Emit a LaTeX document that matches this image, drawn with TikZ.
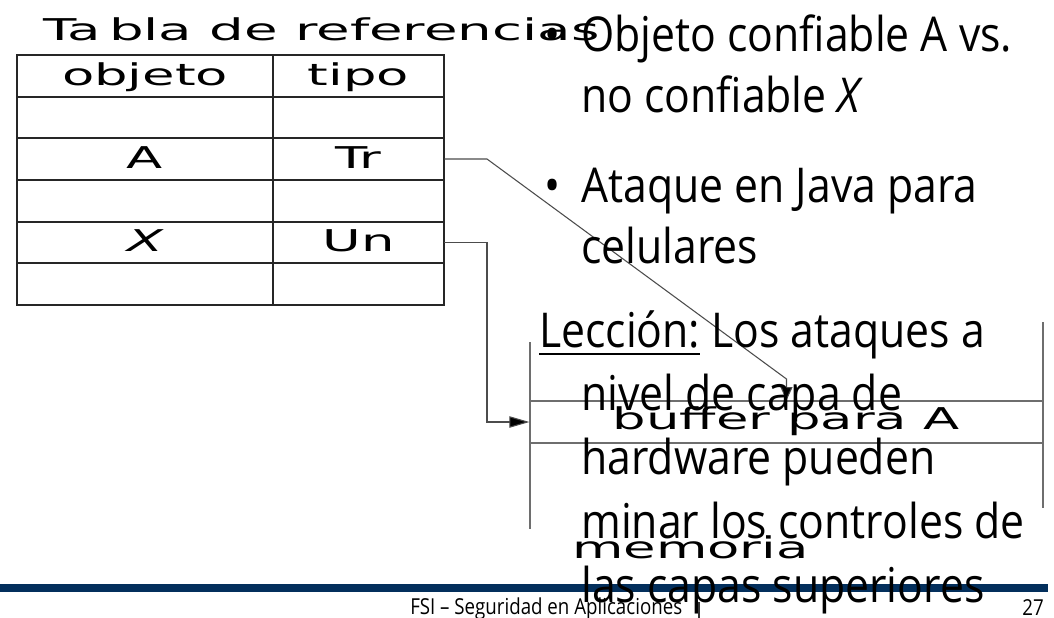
\documentclass[tikz,border=0pt]{standalone}
\usepackage{fontspec}
\usetikzlibrary{arrows.meta}
\newfontfamily\diagfont{DejaVu Sans}[FakeStretch=1.76]
\newfontfamily\titlefont{DejaVu Sans}[FakeStretch=1.82]
\newfontfamily\slidefont{Open Sans}[FakeStretch=0.89]
\newfontfamily\footfont{Open Sans}[FakeStretch=0.85]
\definecolor{barnavy}{RGB}{3,47,92}
\definecolor{memgray}{RGB}{110,110,110}
% underline with a fixed offset below the baseline
\newcommand{\lessonul}[1]{\setbox0=\hbox{#1}\rlap{\rule[-6pt]{\wd0}{1.5pt}}\box0\relax}
\begin{document}
\begin{tikzpicture}[x=0.75pt,y=-0.75pt,
  diag/.style={font=\diagfont\fontsize{22.5pt}{26pt}\selectfont, inner sep=0pt},
  cellA/.style={diag, minimum width=192pt, minimum height=31pt, text height=13.5pt, text depth=0pt},
  cellB/.style={diag, minimum width=128.25pt, minimum height=31pt, text height=13.5pt, text depth=0pt},
  tline/.style={draw=black!85, line width=1pt},
  conn/.style={draw=black!70, line width=0.8pt},
  memline/.style={draw=memgray, line width=0.9pt},
  slide/.style={font=\slidefont\fontsize{36pt}{42pt}\selectfont, inner sep=0pt, anchor=base west},
  foot/.style={font=\footfont\fontsize{16.5pt}{19pt}\selectfont, inner sep=0pt}]
\useasboundingbox (0,0) rectangle (1054,618);

% reference table
\node[font=\titlefont\fontsize{22.5pt}{26pt}\selectfont, inner sep=0pt, anchor=base west] (title) at (43,40)
  {Ta\hspace{6pt}bla de referencias};
\draw[tline] (17,55) rectangle (444,305);
\foreach \yy in {97,138,180,222,263} \draw[tline] (17,\yy) -- (444,\yy);
\draw[tline] (273,55) -- (273,305);
\node[cellA] (objh) at (145,76) {objeto};
\node[cellB] (tipoh) at (358.5,76) {tipo};
\node[cellA] (objA) at (145,159) {A};
\node[cellB] (tr) at (358.5,159) {Tr};
\node[cellA] (objX) at (145,242.5) {\itshape X};
\node[cellB] (un) at (358.5,242.5) {Un};

% memory stack
\draw[memline] (530,342) -- (530,529);
\draw[memline] (1043,322) -- (1043,508);
\node[diag, draw=memgray, line width=0.9pt, minimum width=384.75pt, minimum height=31.5pt,
      text height=10.5pt, text depth=0pt] (buf) at (786.5,422) {buffer para A};
\node[diag, anchor=base west] (mem) at (572,558) {memoria};

% pointers from the table into memory
\coordinate (kneeA) at (487,159);
\coordinate (slantA) at (786.5,379);
\draw[conn,-{Triangle[length=10pt,width=9pt,fill=black]}] (tr.east) -- (kneeA) -- (slantA) -- (buf.north);
\draw[conn,-{Triangle[length=15pt,width=8.5pt,fill=black]}] (un.east) -- (un.east -| kneeA) -- (buf.west -| kneeA) -- (buf.west);

% footer bar
\fill[barnavy] (0,584) rectangle (1048,592);

% slide text
\node[slide] (b1) at (544,51) {•};
\node[slide] (l1) at (581,51) {Objeto confiable A vs.};
\node[slide] (l2) at (581,112) {no confiable \textit{X}};
\node[slide] (b2) at (544,202) {•};
\node[slide] (l3) at (581,202) {Ataque en Java para};
\node[slide] (l4) at (581,263) {celulares};
\node[slide] (l5) at (539,347) {\lessonul{Lección:} Los ataques a};
\node[slide] (l6) at (581,410) {nivel de capa de};
\node[slide] (l7) at (581,474) {hardware pueden};
\node[slide] (l8) at (581,538) {minar los controles de};
\node[slide] (l9) at (581,602) {las capas superiores};

% footer
\node[foot, anchor=base west] (ftxt) at (410,614) {FSI – Seguridad en Aplicaciones};
\draw[line width=1.2pt, black!80] (699,602) -- (699,618);
\node[foot, anchor=base east] (pnum) at (1044,615) {27};
\end{tikzpicture}
\end{document}
